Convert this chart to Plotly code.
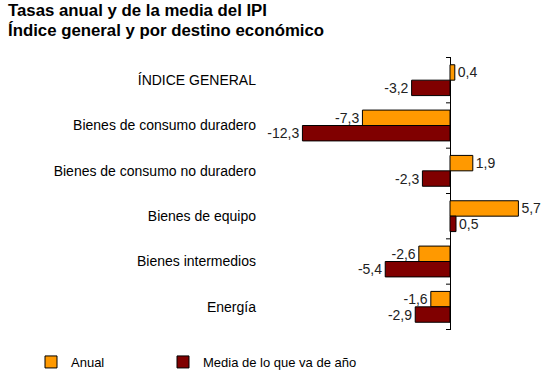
import plotly.graph_objects as go

categories = ["ÍNDICE GENERAL", "Bienes de consumo duradero", "Bienes de consumo no duradero",
              "Bienes de equipo", "Bienes intermedios", "Energía"]
anual = [0.4, -7.3, 1.9, 5.7, -2.6, -1.6]
media = [-3.2, -12.3, -2.3, 0.5, -5.4, -2.9]
series_names = ["Anual", "Media de lo que va de año"]
title_lines = ["Tasas anual y de la media del IPI", "Índice general y por destino económico"]

W, H = 559, 388
L, R, T, B = 256, 13, 57, 58
xmin, xmax = -16.17, 8.0
PW, PH = W - L - R, H - T - B
FONT = "Liberation Sans, Arial"

def fmt(v):
    return f"{v:.1f}".replace(".", ",")

fig = go.Figure()
for name, vals, col, leg in [(series_names[0], anual, "#FF9900", "legend"),
                             (series_names[1], media, "#800000", "legend2")]:
    fig.add_trace(go.Bar(
        y=categories, x=vals, orientation="h", name=name, legend=leg, showlegend=True,
        marker=dict(color=col, line=dict(color="#000000", width=1)),
        text=[fmt(v) for v in vals], textposition="outside",
        textfont=dict(family=FONT, size=14, color="#222222"),
        constraintext="none", cliponaxis=False, hoverinfo="skip",
    ))

shapes = []
for i in range(len(categories) + 1):
    b = i - 0.5
    shapes.append(dict(type="line", xref="x", yref="y", xsizemode="pixel", xanchor=0,
                       x0=-4, x1=0, y0=b, y1=b, line=dict(color="#000000", width=1)))

annotations = []
for txt, ypix in [(title_lines[0], 11), (title_lines[1], 31)]:
    annotations.append(dict(text="<b>" + txt + "</b>", xref="paper", yref="paper",
                            x=(6 - L) / PW, y=1 + (T - ypix) / PH, xanchor="left", yanchor="middle",
                            showarrow=False, font=dict(family=FONT, size=16.8, color="#000000")))

legfont = dict(family=FONT, size=13, color="#000000")
fig.update_layout(
    width=W, height=H,
    margin=dict(l=L, r=R, t=T, b=B, autoexpand=False),
    paper_bgcolor="white", plot_bgcolor="white",
    showlegend=True,
    barmode="group", bargap=0.32, bargroupgap=0,
    font=dict(family=FONT, size=14, color="#000000"),
    xaxis=dict(range=[xmin, xmax], showgrid=False, showticklabels=False, ticks="",
               zeroline=True, zerolinecolor="#000000", zerolinewidth=1, showline=False,
               automargin=False),
    yaxis=dict(type="category", autorange="reversed", anchor="free", position=0,
               showgrid=False, ticks="", showline=False, automargin=False,
               tickfont=dict(family=FONT, size=14, color="#000000")),
    legend=dict(orientation="h", x=31 / W, xanchor="left", y=(H - 362) / H, yanchor="middle",
                xref="container", yref="container", font=legfont, bgcolor="rgba(0,0,0,0)"),
    legend2=dict(orientation="h", x=163 / W, xanchor="left", y=(H - 362) / H, yanchor="middle",
                 xref="container", yref="container", font=legfont, bgcolor="rgba(0,0,0,0)"),
    shapes=shapes,
    annotations=annotations,
)

fig.write_html("out.html", config={"displayModeBar": False},
               post_script="document.body.style.margin='0';document.body.style.overflow='hidden';")
